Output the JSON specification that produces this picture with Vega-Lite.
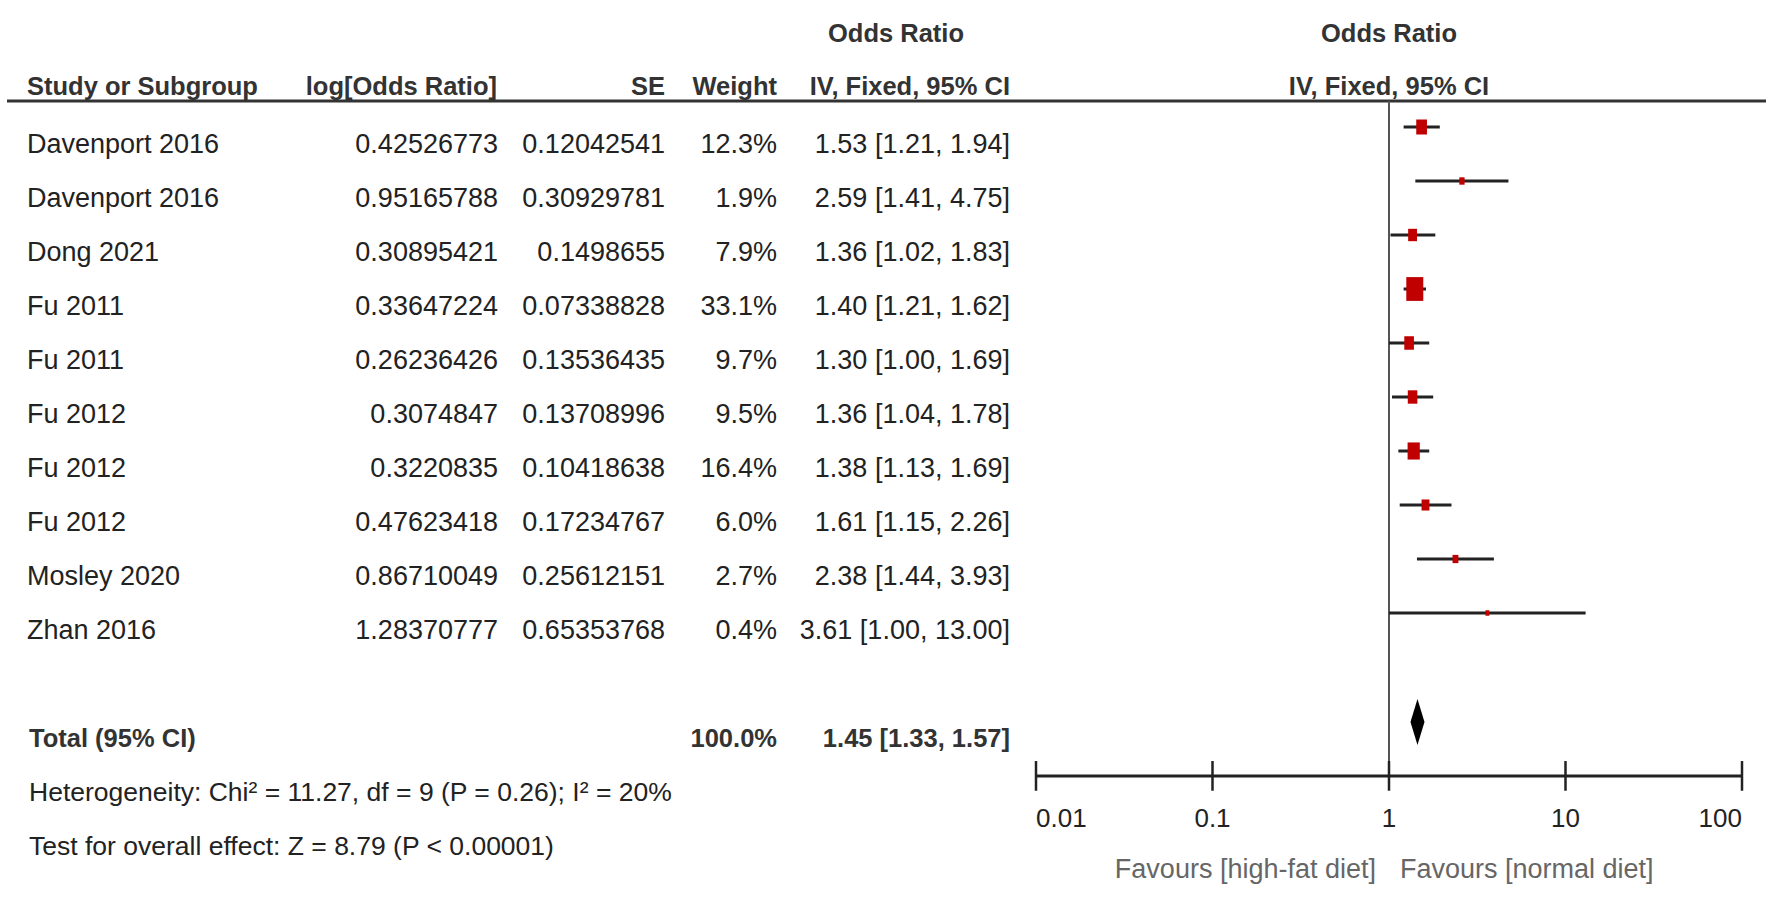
{
  "$schema": "https://vega.github.io/schema/vega-lite/v6.json",
  "width": 1772,
  "height": 903,
  "autosize": {"type": "fit", "contains": "padding"},
  "padding": 0,
  "background": "white",
  "config": {
    "view": {"stroke": null},
    "text": {"font": "Liberation Sans, Arial, sans-serif", "fontSize": 27, "fill": "#222", "baseline": "alphabetic"}
  },
  "datasets": {
    "studies": [
      {"row": 1, "study": "Davenport 2016", "logor": "0.42526773", "se": "0.12042541", "weight": 0.123, "or": 1.53, "lo": 1.21, "hi": 1.94, "ci": "1.53 [1.21, 1.94]"},
      {"row": 2, "study": "Davenport 2016", "logor": "0.95165788", "se": "0.30929781", "weight": 0.019, "or": 2.59, "lo": 1.41, "hi": 4.75, "ci": "2.59 [1.41, 4.75]"},
      {"row": 3, "study": "Dong 2021", "logor": "0.30895421", "se": "0.1498655", "weight": 0.079, "or": 1.36, "lo": 1.02, "hi": 1.83, "ci": "1.36 [1.02, 1.83]"},
      {"row": 4, "study": "Fu 2011", "logor": "0.33647224", "se": "0.07338828", "weight": 0.331, "or": 1.40, "lo": 1.21, "hi": 1.62, "ci": "1.40 [1.21, 1.62]"},
      {"row": 5, "study": "Fu 2011", "logor": "0.26236426", "se": "0.13536435", "weight": 0.097, "or": 1.30, "lo": 1.00, "hi": 1.69, "ci": "1.30 [1.00, 1.69]"},
      {"row": 6, "study": "Fu 2012", "logor": "0.3074847", "se": "0.13708996", "weight": 0.095, "or": 1.36, "lo": 1.04, "hi": 1.78, "ci": "1.36 [1.04, 1.78]"},
      {"row": 7, "study": "Fu 2012", "logor": "0.3220835", "se": "0.10418638", "weight": 0.164, "or": 1.38, "lo": 1.13, "hi": 1.69, "ci": "1.38 [1.13, 1.69]"},
      {"row": 8, "study": "Fu 2012", "logor": "0.47623418", "se": "0.17234767", "weight": 0.060, "or": 1.61, "lo": 1.15, "hi": 2.26, "ci": "1.61 [1.15, 2.26]"},
      {"row": 9, "study": "Mosley 2020", "logor": "0.86710049", "se": "0.25612151", "weight": 0.027, "or": 2.38, "lo": 1.44, "hi": 3.93, "ci": "2.38 [1.44, 3.93]"},
      {"row": 10, "study": "Zhan 2016", "logor": "1.28370777", "se": "0.65353768", "weight": 0.004, "or": 3.61, "lo": 1.00, "hi": 13.00, "ci": "3.61 [1.00, 13.00]"}
    ],
    "total": [
      {"row": 12, "label": "Total (95% CI)", "weight": 1.0, "or": 1.45, "lo": 1.33, "hi": 1.57, "ci": "1.45 [1.33, 1.57]"}
    ],
    "notes": [
      {"row": 13, "note": "Heterogeneity: Chi² = 11.27, df = 9 (P = 0.26); I² = 20%"},
      {"row": 14, "note": "Test for overall effect: Z = 8.79 (P < 0.00001)"}
    ],
    "ticks": [
      {"t": 0.01, "lab": "0.01"},
      {"t": 0.1, "lab": "0.1"},
      {"t": 1, "lab": "1"},
      {"t": 10, "lab": "10"},
      {"t": 100, "lab": "100"}
    ],
    "one": [{}]
  },
  "resolve": {"scale": {"x": "independent"}},
  "layer": [
    {
      "layer": [
        {
          "data": {"name": "one"},
          "mark": {"type": "rule", "stroke": "#333", "strokeWidth": 3},
          "encoding": {
            "x": {"datum": 7, "type": "quantitative", "scale": {"type": "linear", "domain": [0, 1772], "nice": false, "zero": false}, "axis": null},
            "x2": {"datum": 1766},
            "y": {"datum": 0.037, "type": "quantitative", "scale": {"type": "linear", "domain": [-1.8333, 14.8889], "reverse": true, "nice": false, "zero": false}, "axis": null}
          }
        },
        {
          "data": {"name": "one"},
          "mark": {"type": "text", "text": "Study or Subgroup", "align": "left", "fontWeight": "bold", "fontSize": 25.5, "fill": "#333", "yOffset": -4},
          "encoding": {
            "x": {"datum": 27, "type": "quantitative", "scale": {"type": "linear", "domain": [0, 1772], "nice": false, "zero": false}, "axis": null},
            "y": {"datum": 0, "type": "quantitative", "scale": {"type": "linear", "domain": [-1.8333, 14.8889], "reverse": true, "nice": false, "zero": false}, "axis": null}
          }
        },
        {
          "data": {"name": "one"},
          "mark": {"type": "text", "text": "log[Odds Ratio]", "align": "right", "fontWeight": "bold", "fontSize": 25.5, "fill": "#333", "yOffset": -4},
          "encoding": {
            "x": {"datum": 497, "type": "quantitative", "scale": {"type": "linear", "domain": [0, 1772], "nice": false, "zero": false}, "axis": null},
            "y": {"datum": 0, "type": "quantitative", "scale": {"type": "linear", "domain": [-1.8333, 14.8889], "reverse": true, "nice": false, "zero": false}, "axis": null}
          }
        },
        {
          "data": {"name": "one"},
          "mark": {"type": "text", "text": "SE", "align": "right", "fontWeight": "bold", "fontSize": 25.5, "fill": "#333", "yOffset": -4},
          "encoding": {
            "x": {"datum": 665, "type": "quantitative", "scale": {"type": "linear", "domain": [0, 1772], "nice": false, "zero": false}, "axis": null},
            "y": {"datum": 0, "type": "quantitative", "scale": {"type": "linear", "domain": [-1.8333, 14.8889], "reverse": true, "nice": false, "zero": false}, "axis": null}
          }
        },
        {
          "data": {"name": "one"},
          "mark": {"type": "text", "text": "Weight", "align": "right", "fontWeight": "bold", "fontSize": 25.5, "fill": "#333", "yOffset": -4},
          "encoding": {
            "x": {"datum": 777, "type": "quantitative", "scale": {"type": "linear", "domain": [0, 1772], "nice": false, "zero": false}, "axis": null},
            "y": {"datum": 0, "type": "quantitative", "scale": {"type": "linear", "domain": [-1.8333, 14.8889], "reverse": true, "nice": false, "zero": false}, "axis": null}
          }
        },
        {
          "data": {"name": "one"},
          "mark": {"type": "text", "text": "Odds Ratio", "align": "center", "fontWeight": "bold", "fontSize": 25.5, "fill": "#333", "yOffset": -3},
          "encoding": {
            "x": {"datum": 896, "type": "quantitative", "scale": {"type": "linear", "domain": [0, 1772], "nice": false, "zero": false}, "axis": null},
            "y": {"datum": -1, "type": "quantitative", "scale": {"type": "linear", "domain": [-1.8333, 14.8889], "reverse": true, "nice": false, "zero": false}, "axis": null}
          }
        },
        {
          "data": {"name": "one"},
          "mark": {"type": "text", "text": "IV, Fixed, 95% CI", "align": "right", "fontWeight": "bold", "fontSize": 25.5, "fill": "#333", "yOffset": -4},
          "encoding": {
            "x": {"datum": 1010, "type": "quantitative", "scale": {"type": "linear", "domain": [0, 1772], "nice": false, "zero": false}, "axis": null},
            "y": {"datum": 0, "type": "quantitative", "scale": {"type": "linear", "domain": [-1.8333, 14.8889], "reverse": true, "nice": false, "zero": false}, "axis": null}
          }
        },
        {
          "data": {"name": "one"},
          "mark": {"type": "text", "text": "Odds Ratio", "align": "center", "fontWeight": "bold", "fontSize": 25.5, "fill": "#333", "yOffset": -3},
          "encoding": {
            "x": {"datum": 1389, "type": "quantitative", "scale": {"type": "linear", "domain": [0, 1772], "nice": false, "zero": false}, "axis": null},
            "y": {"datum": -1, "type": "quantitative", "scale": {"type": "linear", "domain": [-1.8333, 14.8889], "reverse": true, "nice": false, "zero": false}, "axis": null}
          }
        },
        {
          "data": {"name": "one"},
          "mark": {"type": "text", "text": "IV, Fixed, 95% CI", "align": "center", "fontWeight": "bold", "fontSize": 25.5, "fill": "#333", "yOffset": -4},
          "encoding": {
            "x": {"datum": 1389, "type": "quantitative", "scale": {"type": "linear", "domain": [0, 1772], "nice": false, "zero": false}, "axis": null},
            "y": {"datum": 0, "type": "quantitative", "scale": {"type": "linear", "domain": [-1.8333, 14.8889], "reverse": true, "nice": false, "zero": false}, "axis": null}
          }
        },
        {
          "data": {"name": "studies"},
          "mark": {"type": "text", "align": "left"},
          "encoding": {
            "x": {"datum": 27, "type": "quantitative", "scale": {"type": "linear", "domain": [0, 1772], "nice": false, "zero": false}, "axis": null},
            "y": {"field": "row", "type": "quantitative", "scale": {"type": "linear", "domain": [-1.8333, 14.8889], "reverse": true, "nice": false, "zero": false}, "axis": null},
            "text": {"field": "study"}
          }
        },
        {
          "data": {"name": "studies"},
          "mark": {"type": "text", "align": "right"},
          "encoding": {
            "x": {"datum": 498, "type": "quantitative", "scale": {"type": "linear", "domain": [0, 1772], "nice": false, "zero": false}, "axis": null},
            "y": {"field": "row", "type": "quantitative", "scale": {"type": "linear", "domain": [-1.8333, 14.8889], "reverse": true, "nice": false, "zero": false}, "axis": null},
            "text": {"field": "logor"}
          }
        },
        {
          "data": {"name": "studies"},
          "mark": {"type": "text", "align": "right"},
          "encoding": {
            "x": {"datum": 665, "type": "quantitative", "scale": {"type": "linear", "domain": [0, 1772], "nice": false, "zero": false}, "axis": null},
            "y": {"field": "row", "type": "quantitative", "scale": {"type": "linear", "domain": [-1.8333, 14.8889], "reverse": true, "nice": false, "zero": false}, "axis": null},
            "text": {"field": "se"}
          }
        },
        {
          "data": {"name": "studies"},
          "mark": {"type": "text", "align": "right"},
          "encoding": {
            "x": {"datum": 777, "type": "quantitative", "scale": {"type": "linear", "domain": [0, 1772], "nice": false, "zero": false}, "axis": null},
            "y": {"field": "row", "type": "quantitative", "scale": {"type": "linear", "domain": [-1.8333, 14.8889], "reverse": true, "nice": false, "zero": false}, "axis": null},
            "text": {"field": "weight", "type": "quantitative", "format": ".1%"}
          }
        },
        {
          "data": {"name": "studies"},
          "mark": {"type": "text", "align": "right"},
          "encoding": {
            "x": {"datum": 1010, "type": "quantitative", "scale": {"type": "linear", "domain": [0, 1772], "nice": false, "zero": false}, "axis": null},
            "y": {"field": "row", "type": "quantitative", "scale": {"type": "linear", "domain": [-1.8333, 14.8889], "reverse": true, "nice": false, "zero": false}, "axis": null},
            "text": {"field": "ci"}
          }
        },
        {
          "data": {"name": "total"},
          "mark": {"type": "text", "align": "left", "fontWeight": "bold", "fontSize": 25.5, "fill": "#333"},
          "encoding": {
            "x": {"datum": 29, "type": "quantitative", "scale": {"type": "linear", "domain": [0, 1772], "nice": false, "zero": false}, "axis": null},
            "y": {"field": "row", "type": "quantitative", "scale": {"type": "linear", "domain": [-1.8333, 14.8889], "reverse": true, "nice": false, "zero": false}, "axis": null},
            "text": {"field": "label"}
          }
        },
        {
          "data": {"name": "total"},
          "mark": {"type": "text", "align": "right", "fontWeight": "bold", "fontSize": 25.5, "fill": "#333"},
          "encoding": {
            "x": {"datum": 777, "type": "quantitative", "scale": {"type": "linear", "domain": [0, 1772], "nice": false, "zero": false}, "axis": null},
            "y": {"field": "row", "type": "quantitative", "scale": {"type": "linear", "domain": [-1.8333, 14.8889], "reverse": true, "nice": false, "zero": false}, "axis": null},
            "text": {"field": "weight", "type": "quantitative", "format": ".1%"}
          }
        },
        {
          "data": {"name": "total"},
          "mark": {"type": "text", "align": "right", "fontWeight": "bold", "fontSize": 25.5, "fill": "#333"},
          "encoding": {
            "x": {"datum": 1010, "type": "quantitative", "scale": {"type": "linear", "domain": [0, 1772], "nice": false, "zero": false}, "axis": null},
            "y": {"field": "row", "type": "quantitative", "scale": {"type": "linear", "domain": [-1.8333, 14.8889], "reverse": true, "nice": false, "zero": false}, "axis": null},
            "text": {"field": "ci"}
          }
        },
        {
          "data": {"name": "notes"},
          "mark": {"type": "text", "align": "left", "fontSize": 26.5},
          "encoding": {
            "x": {"datum": 29, "type": "quantitative", "scale": {"type": "linear", "domain": [0, 1772], "nice": false, "zero": false}, "axis": null},
            "y": {"field": "row", "type": "quantitative", "scale": {"type": "linear", "domain": [-1.8333, 14.8889], "reverse": true, "nice": false, "zero": false}, "axis": null},
            "text": {"field": "note"}
          }
        }
      ]
    },
    {
      "layer": [
        {
          "data": {"name": "one"},
          "mark": {"type": "rule", "stroke": "#555", "strokeWidth": 2},
          "encoding": {
            "x": {"datum": 1, "type": "quantitative", "scale": {"type": "log", "domain": [0.01, 100], "range": [1036, 1742], "nice": false}, "axis": null},
            "y": {"datum": 0.037, "type": "quantitative", "scale": {"type": "linear", "domain": [-1.8333, 14.8889], "reverse": true, "nice": false, "zero": false}, "axis": null},
            "y2": {"datum": 12.537}
          }
        },
        {
          "data": {"name": "one"},
          "mark": {"type": "rule", "stroke": "#222", "strokeWidth": 3},
          "encoding": {
            "x": {"datum": 0.01, "type": "quantitative", "scale": {"type": "log", "domain": [0.01, 100], "range": [1036, 1742], "nice": false}, "axis": null},
            "x2": {"datum": 100},
            "y": {"datum": 12.537, "type": "quantitative", "scale": {"type": "linear", "domain": [-1.8333, 14.8889], "reverse": true, "nice": false, "zero": false}, "axis": null}
          }
        },
        {
          "data": {"name": "ticks"},
          "mark": {"type": "rule", "stroke": "#222", "strokeWidth": 2.5},
          "encoding": {
            "x": {"field": "t", "type": "quantitative", "scale": {"type": "log", "domain": [0.01, 100], "range": [1036, 1742], "nice": false}, "axis": null},
            "y": {"datum": 12.26, "type": "quantitative", "scale": {"type": "linear", "domain": [-1.8333, 14.8889], "reverse": true, "nice": false, "zero": false}, "axis": null},
            "y2": {"datum": 12.81}
          }
        },
        {
          "data": {"name": "ticks"},
          "transform": [{"filter": "datum.t == 0.01"}],
          "mark": {"type": "text", "align": "left", "fontSize": 26},
          "encoding": {
            "x": {"field": "t", "type": "quantitative", "scale": {"type": "log", "domain": [0.01, 100], "range": [1036, 1742], "nice": false}, "axis": null},
            "y": {"datum": 13.48, "type": "quantitative", "scale": {"type": "linear", "domain": [-1.8333, 14.8889], "reverse": true, "nice": false, "zero": false}, "axis": null},
            "text": {"field": "lab"}
          }
        },
        {
          "data": {"name": "ticks"},
          "transform": [{"filter": "datum.t > 0.01 && datum.t < 100"}],
          "mark": {"type": "text", "align": "center", "fontSize": 26},
          "encoding": {
            "x": {"field": "t", "type": "quantitative", "scale": {"type": "log", "domain": [0.01, 100], "range": [1036, 1742], "nice": false}, "axis": null},
            "y": {"datum": 13.48, "type": "quantitative", "scale": {"type": "linear", "domain": [-1.8333, 14.8889], "reverse": true, "nice": false, "zero": false}, "axis": null},
            "text": {"field": "lab"}
          }
        },
        {
          "data": {"name": "ticks"},
          "transform": [{"filter": "datum.t == 100"}],
          "mark": {"type": "text", "align": "right", "fontSize": 26},
          "encoding": {
            "x": {"field": "t", "type": "quantitative", "scale": {"type": "log", "domain": [0.01, 100], "range": [1036, 1742], "nice": false}, "axis": null},
            "y": {"datum": 13.48, "type": "quantitative", "scale": {"type": "linear", "domain": [-1.8333, 14.8889], "reverse": true, "nice": false, "zero": false}, "axis": null},
            "text": {"field": "lab"}
          }
        },
        {
          "data": {"name": "one"},
          "mark": {"type": "text", "text": "Favours [high-fat diet]", "align": "right", "dx": -13, "fontSize": 27, "fill": "#666"},
          "encoding": {
            "x": {"datum": 1, "type": "quantitative", "scale": {"type": "log", "domain": [0.01, 100], "range": [1036, 1742], "nice": false}, "axis": null},
            "y": {"datum": 14.43, "type": "quantitative", "scale": {"type": "linear", "domain": [-1.8333, 14.8889], "reverse": true, "nice": false, "zero": false}, "axis": null}
          }
        },
        {
          "data": {"name": "one"},
          "mark": {"type": "text", "text": "Favours [normal diet]", "align": "left", "dx": 11, "fontSize": 27, "fill": "#666"},
          "encoding": {
            "x": {"datum": 1, "type": "quantitative", "scale": {"type": "log", "domain": [0.01, 100], "range": [1036, 1742], "nice": false}, "axis": null},
            "y": {"datum": 14.43, "type": "quantitative", "scale": {"type": "linear", "domain": [-1.8333, 14.8889], "reverse": true, "nice": false, "zero": false}, "axis": null}
          }
        },
        {
          "data": {"name": "studies"},
          "mark": {"type": "rule", "stroke": "#222", "strokeWidth": 3, "yOffset": -26},
          "encoding": {
            "x": {"field": "lo", "type": "quantitative", "scale": {"type": "log", "domain": [0.01, 100], "range": [1036, 1742], "nice": false}, "axis": null},
            "x2": {"field": "hi"},
            "y": {"field": "row", "type": "quantitative", "scale": {"type": "linear", "domain": [-1.8333, 14.8889], "reverse": true, "nice": false, "zero": false}, "axis": null}
          }
        },
        {
          "data": {"name": "studies"},
          "mark": {"type": "point", "shape": "M-1,-1.4H1V1.4H-1Z", "filled": true, "fill": "#c00000", "opacity": 1, "strokeWidth": 0, "yOffset": -26},
          "encoding": {
            "x": {"field": "or", "type": "quantitative", "scale": {"type": "log", "domain": [0.01, 100], "range": [1036, 1742], "nice": false}, "axis": null},
            "y": {"field": "row", "type": "quantitative", "scale": {"type": "linear", "domain": [-1.8333, 14.8889], "reverse": true, "nice": false, "zero": false}, "axis": null},
            "size": {"field": "weight", "type": "quantitative", "scale": {"type": "linear", "domain": [0, 0.331], "range": [12, 289], "zero": true}, "legend": null}
          }
        },
        {
          "data": {"name": "total"},
          "mark": {"type": "point", "shape": "M-1,0L0,-3.3L1,0L0,3.3Z", "filled": true, "fill": "#000", "opacity": 1, "strokeWidth": 0, "size": 196, "yOffset": -25},
          "encoding": {
            "x": {"field": "or", "type": "quantitative", "scale": {"type": "log", "domain": [0.01, 100], "range": [1036, 1742], "nice": false}, "axis": null},
            "y": {"field": "row", "type": "quantitative", "scale": {"type": "linear", "domain": [-1.8333, 14.8889], "reverse": true, "nice": false, "zero": false}, "axis": null}
          }
        }
      ]
    }
  ]
}
